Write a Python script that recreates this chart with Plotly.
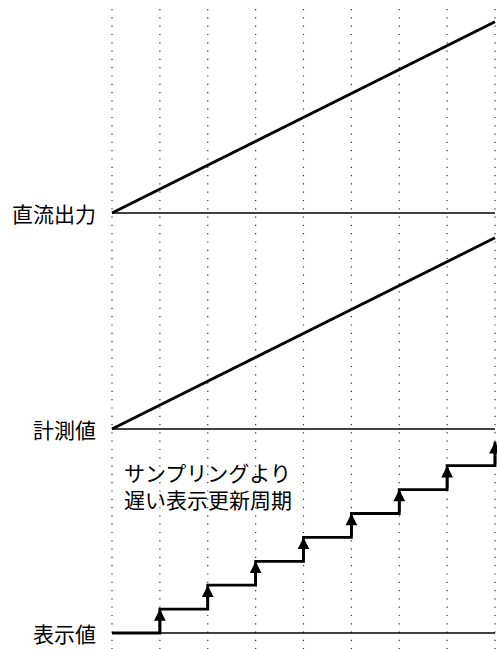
import plotly.graph_objects as go

# ---- data ----
sample_times = [0, 1, 2, 3, 4, 5, 6, 7, 8]
direct_output = [0, 1, 2, 3, 4, 5, 6, 7, 8]
measured_values = [0, 1, 2, 3, 4, 5, 6, 7, 8]
display_times = [0, 1, 2, 3, 4, 5, 6, 7, 8]
display_values = [0, 1, 2, 3, 4, 5, 6, 7, 8]
row_labels = ["直流出力", "計測値", "表示値"]
note_text = "サンプリングより<br>遅い表示更新周期"

# ---- layout constants ----
W, H = 497, 649
X0_PX, X1_PX = 112, 495          # pixel positions of first/last sample
Y0_PX = 633                      # pixel of display baseline
PX_PER_Y = 23.9
px_per_x = (X1_PX - X0_PX) / (sample_times[-1] - sample_times[0])
x_range = [-X0_PX / px_per_x, (W - X0_PX) / px_per_x]
y_range = [-(H - Y0_PX) / PX_PER_Y, Y0_PX / PX_PER_Y]
row_offsets = [(Y0_PX - 213) / PX_PER_Y, (Y0_PX - 429) / PX_PER_Y, 0.0]
grid_top = (Y0_PX - 9) / PX_PER_Y

FONT = "Noto Sans CJK JP"
fig = go.Figure()

# dotted vertical sample lines
for t in sample_times:
    fig.add_trace(go.Scatter(x=[t, t], y=[grid_top, y_range[0]], mode="lines",
                             line=dict(color="#333", width=1.2, dash="1.2px,7.1px"),
                             hoverinfo="skip", showlegend=False))

# baselines
for off in row_offsets:
    fig.add_trace(go.Scatter(x=[sample_times[0], sample_times[-1]], y=[off, off], mode="lines",
                             line=dict(color="black", width=1.5),
                             hoverinfo="skip", showlegend=False))

# ramps
fig.add_trace(go.Scatter(x=sample_times, y=[v + row_offsets[0] for v in direct_output],
                         mode="lines", line=dict(color="black", width=2.8), showlegend=False))
fig.add_trace(go.Scatter(x=sample_times, y=[v + row_offsets[1] for v in measured_values],
                         mode="lines", line=dict(color="black", width=2.8), showlegend=False))

# staircase
fig.add_trace(go.Scatter(x=display_times, y=[v + row_offsets[2] for v in display_values],
                         mode="lines", line=dict(color="black", width=2.8, shape="hv"),
                         showlegend=False))

annotations = []
for i in range(1, len(display_times)):
    annotations.append(dict(x=display_times[i], y=display_values[i] + row_offsets[2],
                            ax=display_times[i], ay=display_values[i - 1] + row_offsets[2],
                            xref="x", yref="y", axref="x", ayref="y", text="",
                            showarrow=True, arrowhead=2, arrowsize=0.9, arrowwidth=2.6,
                            arrowcolor="black"))

for lab, off in zip(row_labels, row_offsets):
    annotations.append(dict(x=sample_times[0], y=off, xref="x", yref="y", text=lab,
                            showarrow=False, xanchor="right", yanchor="middle", xshift=-14,
                            font=dict(family=FONT, size=21, color="black")))

annotations.append(dict(x=sample_times[0], y=(Y0_PX - 485) / PX_PER_Y, xref="x", yref="y",
                        text=note_text, showarrow=False, xanchor="left", yanchor="middle",
                        align="left", xshift=10,
                        font=dict(family=FONT, size=21, color="black")))

fig.update_layout(width=W, height=H, margin=dict(l=0, r=0, t=0, b=0),
                  paper_bgcolor="white", plot_bgcolor="white",
                  xaxis=dict(range=x_range, visible=False, showgrid=False, zeroline=False, fixedrange=True),
                  yaxis=dict(range=y_range, visible=False, showgrid=False, zeroline=False, fixedrange=True),
                  annotations=annotations, showlegend=False)

fig.write_html("out.html", config={"displayModeBar": False},
               post_script="document.body.style.margin='0';document.body.style.overflow='hidden';")
